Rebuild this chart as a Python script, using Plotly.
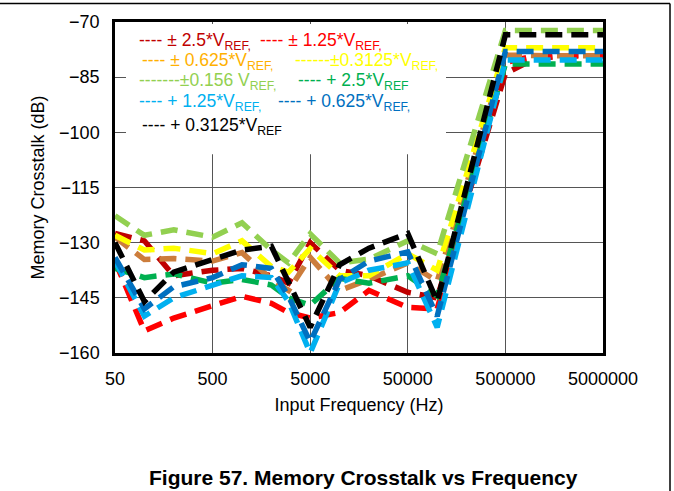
import plotly.graph_objects as go

# input frequency (Hz)
freq_hz = [50, 100, 200, 500, 1000, 2000, 3000, 5000, 10000, 20000,
           50000, 100000, 500000, 1000000, 2000000, 5000000]

# memory crosstalk (dB)
pm_2p5 = [-127.5, -129.5, -139, -137.5, -137, -139, -141, -130, -137.5, -139,
          -143.5, -145, -84, -80, -79.2, -79.2]
pm_1p25 = [-135, -154, -150.5, -147, -144.6, -146.5, -149, -150.5, -149, -143,
           -147.6, -148, -81, -79.2, -79.2, -79.2]
pm_0p625 = [-128.5, -134.6, -134.3, -135, -132.7, -140, -143, -134, -143, -140,
            -135.5, -140.5, -79, -79.2, -79.2, -79.2]
pm_0p3125 = [-128, -132, -131.5, -133, -129.5, -136.5, -138, -131.6, -139, -139,
             -133, -137.5, -77, -77, -77, -77]
pm_0p156 = [-122.7, -128, -126.5, -128.5, -124.6, -132, -135.5, -127.6, -135.5, -134.5,
            -129.5, -133, -72.3, -72.3, -72.3, -72.3]
p_2p5 = [-137, -139.5, -138.5, -141, -140, -141.5, -145, -147, -139.7, -141,
         -139, -144.5, -81.4, -81.4, -81.4, -81.4]
p_1p25 = [-135, -150, -145, -141.5, -139, -139.5, -146, -160, -141, -137.5,
          -135.5, -153, -80.3, -80.3, -80.3, -80.3]
p_0p625 = [-134, -148, -142, -139.5, -136, -137, -144.6, -157, -140, -135,
           -132.5, -150, -78, -78, -78, -78]
p_0p3125 = [-130, -146, -138, -134.5, -132, -131, -141, -153, -136, -131.5,
            -127.5, -146, -73.5, -73.5, -73.5, -73.5]

tick_vals = [50, 500, 5000, 50000, 500000, 5000000]
tick_text = ["50", "500", "5000", "50000", "500000", "5000000"]
y_ticks = [-70, -85, -100, -115, -130, -145, -160]

series = [
    (pm_2p5, "#C00000", "#C00000", "---- ± 2.5*V<sub>REF,</sub>"),
    (pm_1p25, "#FF0000", "#FF0000", "---- ± 1.25*V<sub>REF,</sub>"),
    (pm_0p625, "#CC7D3C", "#FFB000", "---- ± 0.625*V<sub>REF,</sub>"),
    (pm_0p3125, "#FFFF00", "#FFFF00", "------±0.3125*V<sub>REF,</sub>"),
    (pm_0p156, "#92D050", "#92D050", "-------±0.156 V<sub>REF,</sub>"),
    (p_2p5, "#00B050", "#00B050", "---- + 2.5*V<sub>REF</sub>"),
    (p_1p25, "#00B0F0", "#00B0F0", "---- + 1.25*V<sub>REF,</sub>"),
    (p_0p625, "#0070C0", "#0070C0", "---- + 0.625*V<sub>REF,</sub>"),
    (p_0p3125, "#000000", "#000000", "---- + 0.3125*V<sub>REF</sub>"),
]

# plot area in pixels
L, R, T, B = 115, 603, 20, 353
W, H = 674, 491


def px(x):
    return (x - L) / (R - L)


def py(y):
    return (B - y) / (B - T)


fig = go.Figure()
for vals, col, _, _ in series:
    fig.add_trace(go.Scatter(
        x=freq_hz, y=vals, mode="lines",
        line=dict(color=col, width=5.5, dash="17px,9px"),
        showlegend=False,
    ))

FONT = "Liberation Sans, Arial, sans-serif"

# legend drawn as coloured text like the original
legend_pos = [(137, 40), (258, 40), (140, 60), (293, 60), (137, 80), (296, 80),
              (137, 101), (276, 101), (140, 125)]
annotations = []
for (vals, col, tcol, label), (lx, ly) in zip(series, legend_pos):
    annotations.append(dict(
        x=px(lx), y=py(ly), xref="paper", yref="paper", xanchor="left", yanchor="middle",
        text=label, showarrow=False, font=dict(family=FONT, size=17.5, color=tcol),
    ))

annotations.append(dict(
    x=px(363), y=py(478), xref="paper", yref="paper", xanchor="center", yanchor="middle",
    text="<b>Figure 57. Memory Crosstalk vs Frequency</b>", showarrow=False,
    font=dict(family=FONT, size=21, color="black"),
))

shapes = [
    # white box behind the legend text
    dict(type="rect", xref="paper", yref="paper", x0=px(126), x1=px(446), y0=py(153), y1=py(22),
         fillcolor="white", line=dict(width=0), layer="above"),
    # outer page border (top and right)
    dict(type="line", xref="paper", yref="paper", x0=px(-5), x1=px(670), y0=py(1.5), y1=py(1.5),
         line=dict(color="black", width=1.5)),
    dict(type="line", xref="paper", yref="paper", x0=px(670), x1=px(670), y0=py(1.5), y1=py(495),
         line=dict(color="black", width=1.5)),
]

fig.update_layout(
    width=W, height=H,
    margin=dict(l=L, r=W - R, t=T, b=H - B),
    paper_bgcolor="white", plot_bgcolor="white",
    font=dict(family=FONT, size=18, color="black"),
    annotations=annotations,
    shapes=shapes,
)
fig.update_xaxes(
    type="log", range=[1.69897, 6.69897],
    tickvals=tick_vals, ticktext=tick_text, ticks="", ticklabelstandoff=8,
    showgrid=True, gridcolor="#555555", gridwidth=1.2,
    showline=True, linecolor="black", linewidth=2.5, mirror=True,
    title=dict(text="Input Frequency (Hz)", standoff=11, font=dict(size=18)),
    tickfont=dict(size=18),
)
fig.update_yaxes(
    range=[-160, -70], tickvals=y_ticks, ticks="", ticklabelstandoff=9,
    showgrid=True, gridcolor="#555555", gridwidth=1.2, zeroline=False,
    showline=True, linecolor="black", linewidth=2.5, mirror=True,
    title=dict(text="Memory Crosstalk (dB)", standoff=10, font=dict(size=18)),
    tickfont=dict(size=18),
)

# drop the browser's default body margin so the figure sits at the window's corner
fig.write_html(
    "out.html",
    config={"displayModeBar": False},
    post_script="document.body.style.margin='0';document.body.style.overflow='hidden';",
)
